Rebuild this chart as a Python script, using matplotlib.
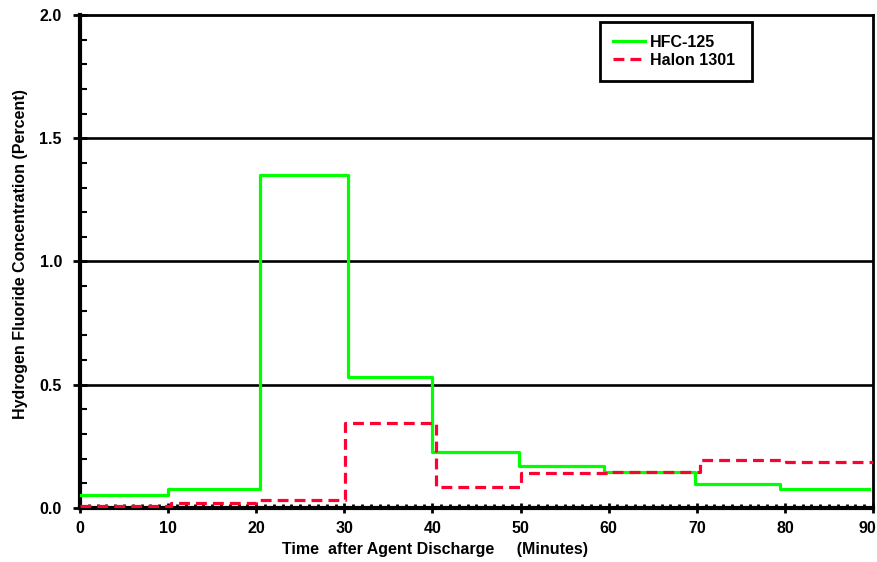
import numpy as np
import matplotlib
matplotlib.use("Agg")
import matplotlib.pyplot as plt
import matplotlib.transforms as mtransforms
from matplotlib.ticker import MultipleLocator

plt.rcParams['font.family'] = ['Liberation Sans', 'DejaVu Sans']
plt.rcParams['font.weight'] = 'bold'

# step edges (minutes) and levels (percent)
hfc_edges = [0, 10, 20.4, 30.4, 40, 49.8, 59.5, 69.8, 79.5, 89.6]
hfc_levels = [0.054, 0.076, 1.352, 0.531, 0.226, 0.172, 0.148, 0.097, 0.077]

halon_edges = [0, 10.3, 20, 30.1, 40.4, 50.1, 60.2, 70.4, 80.1, 90]
halon_levels = [0.010, 0.020, 0.032, 0.344, 0.085, 0.140, 0.148, 0.193, 0.185]

x_ticks = [0, 10, 20, 30, 40, 50, 60, 70, 80, 90]
y_ticks = [0.0, 0.5, 1.0, 1.5, 2.0]

fig = plt.figure(figsize=(8.78, 5.62), dpi=100)
ax = fig.add_axes([0.0911, 0.0961, 0.9032, 0.8772])

for y in y_ticks[1:-1]:
    ax.axhline(y, color='black', lw=1.9, zorder=1)

ax.step(hfc_edges, hfc_levels + [hfc_levels[-1]], where='post',
        color='#00ff00', lw=2.3, label='HFC-125', zorder=3)
ax.step(halon_edges, halon_levels + [halon_levels[-1]], where='post',
        color='#ff0033', lw=2.3, dashes=(3.4, 1.9), label='Halon 1301', zorder=4)

ax.set_xlim(0, 90)
ax.set_ylim(0, 2.0)
ax.set_xticks(x_ticks)
ax.set_yticks(y_ticks)
ax.xaxis.set_minor_locator(MultipleLocator(1))
ax.yaxis.set_minor_locator(MultipleLocator(0.1))
ax.set_yticklabels([f"{v:.1f}" for v in y_ticks])

ax.tick_params(axis='y', which='major', direction='inout', length=10,
               width=2, labelsize=11.5, pad=8)
ax.tick_params(axis='y', which='minor', direction='in', length=5, width=1.5)
ax.tick_params(axis='x', which='major', direction='inout', length=7,
               width=2, labelsize=11.5, pad=6)
ax.tick_params(axis='x', which='minor', direction='in', length=3, width=2)
for lab in ax.get_xticklabels() + ax.get_yticklabels():
    lab.set_fontweight('bold')

# last x label sits a little inside the figure edge
last = ax.get_xticklabels()[-1]
last.set_transform(last.get_transform() +
                   mtransforms.ScaledTranslation(-0.06, 0, fig.dpi_scale_trans))

for side in ['left', 'bottom']:
    ax.spines[side].set_linewidth(3)
for side in ['top', 'right']:
    ax.spines[side].set_linewidth(2)

ax.set_ylabel("Hydrogen Fluoride Concentration (Percent)", fontsize=11.5,
              fontweight='bold')
ax.yaxis.set_label_coords(-0.065, 0.515)
ax.set_xlabel("Time  after Agent Discharge     (Minutes)", fontsize=11.5,
              fontweight='bold')
ax.xaxis.set_label_coords(0.448, -0.069)

leg = ax.legend(loc='upper left', bbox_to_anchor=(0.656, 0.986, 0.1917, 0.0),
                mode='expand', fancybox=False, framealpha=1, edgecolor='black',
                handlelength=2.0, handletextpad=0.3, borderpad=0.8,
                labelspacing=0.2, borderaxespad=0.0,
                prop={'weight': 'bold', 'size': 11.5})
leg.get_frame().set_linewidth(2)
leg.set_zorder(5)

fig.savefig("out.png", dpi=100)
